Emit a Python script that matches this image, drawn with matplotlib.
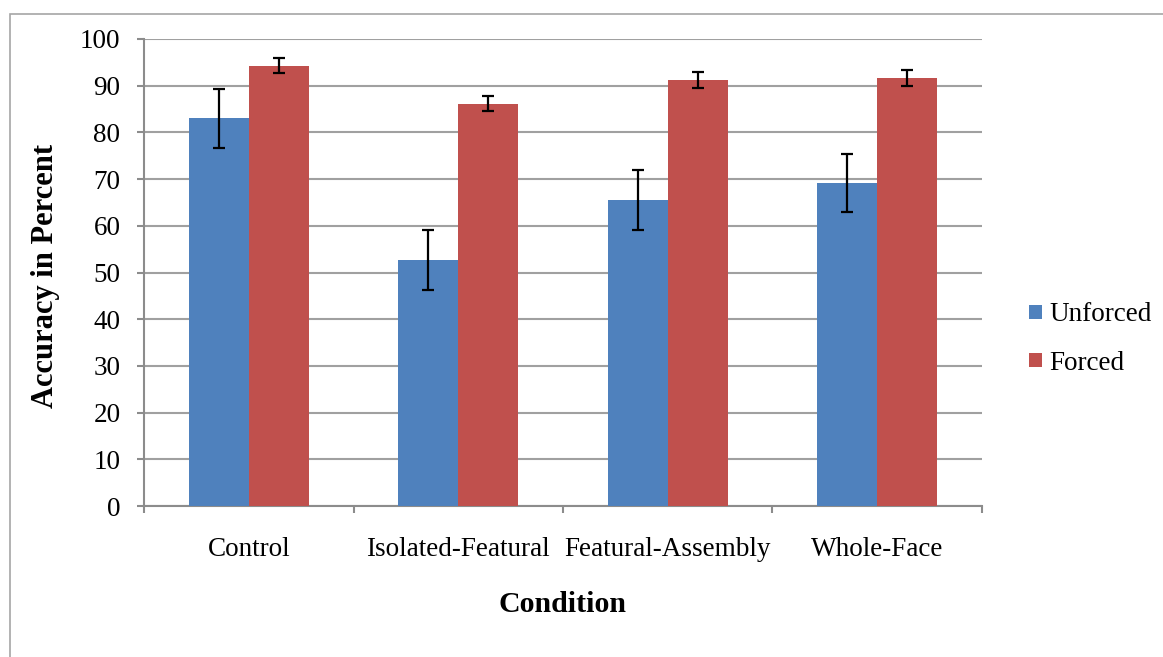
import numpy as np
import matplotlib
matplotlib.use('Agg')
import matplotlib.pyplot as plt
from matplotlib.patches import Rectangle

plt.rcParams['font.family'] = ['Liberation Serif', 'DejaVu Serif']

# data
conditions = ['Control', 'Isolated-Featural', 'Featural-Assembly', 'Whole-Face']
unforced = [83.0, 52.6, 65.5, 69.2]
unforced_err = [6.3, 6.4, 6.4, 6.2]
forced = [94.3, 86.1, 91.3, 91.7]
forced_err = [1.6, 1.6, 1.7, 1.7]

W, H = 1163, 657
fig = plt.figure(figsize=(W / 100, H / 100), dpi=100)
ax = fig.add_axes([144 / W, 1 - 506 / H, (982 - 144) / W, (506 - 39) / H])

# chart area border (only left and top visible)
fig.patches.append(Rectangle((10 / W, -0.1), 1.2, 1 - 13.5 / H + 0.1,
                             transform=fig.transFigure, fill=False,
                             edgecolor='#a6a6a6', linewidth=1.2))

x = np.arange(len(conditions))
bw = 0.286
err_kw = dict(ecolor='black', elinewidth=1.6, capsize=4.5, capthick=1.6)
ax.bar(x - bw / 2, unforced, bw, yerr=unforced_err, color='#4F81BD',
       label='Unforced', error_kw=err_kw, zorder=3)
ax.bar(x + bw / 2, forced, bw, yerr=forced_err, color='#C0504D',
       label='Forced', error_kw=err_kw, zorder=3)

ax.set_xlim(-0.5, len(conditions) - 0.5)
ax.set_ylim(0, 100)
ax.set_yticks(np.arange(0, 101, 10))
ax.yaxis.grid(True, color='#a0a0a0', linewidth=1.5, zorder=0)
ax.set_axisbelow(True)

ax.set_xticks(x)
ax.set_xticklabels(conditions, fontsize=19.5)
ax.set_xticks(np.arange(-0.5, len(conditions), 1), minor=True)
ax.tick_params(axis='x', which='major', length=0, pad=22)
ax.tick_params(axis='x', which='minor', length=5, width=1.5, color='#8c8c8c')
ax.tick_params(axis='y', labelsize=19.5, length=5, width=1.5, color='#8c8c8c', pad=12)

for s in ['top', 'right']:
    ax.spines[s].set_visible(False)
for s in ['left', 'bottom']:
    ax.spines[s].set_color('#8c8c8c')
    ax.spines[s].set_linewidth(1.5)

ax.set_xlabel('Condition', fontsize=21.5, fontweight='bold', labelpad=21)
fig.text(46 / W, 1 - 276 / H, 'Accuracy in Percent', fontsize=22,
         fontweight='bold', rotation=90, ha='center', va='center')

ax.legend(loc='center left', bbox_to_anchor=(1024 / W, 1 - 339 / H),
          bbox_transform=fig.transFigure, frameon=False, fontsize=19.5,
          handlelength=0.45, handleheight=0.45, handletextpad=0.3,
          labelspacing=0.85, borderpad=0.2, borderaxespad=0)

fig.savefig('out.png', dpi=100)
